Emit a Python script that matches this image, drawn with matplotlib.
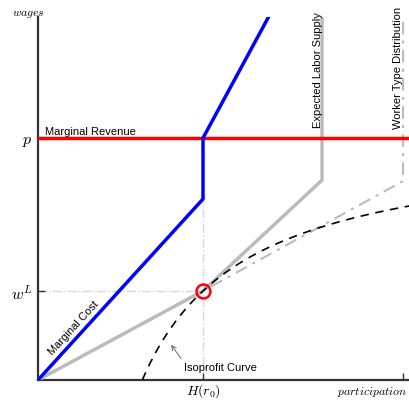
import numpy as np
import matplotlib
matplotlib.use("Agg")
import matplotlib.pyplot as plt

plt.rcParams['mathtext.fontset'] = 'cm'
plt.rcParams['font.family'] = ['Liberation Sans', 'DejaVu Sans']

# key levels (participation on x, wages on y)
H_r0 = 0.452
p_level = 1.0
w_L = 0.368

# curves
mc_x = [0, H_r0, H_r0, 0.630]
mc_y = [0, 0.748, p_level, 1.496]

supply_x = [0, H_r0, 0.778, 0.778]
supply_y = [0, w_L, 0.826, 1.5]

dist_x = [0, H_r0, 1.0, 1.0]
dist_y = [0, w_L, 0.822, 1.5]

# isoprofit: (p - w) * L = const through the optimum
k_iso = (p_level - w_L) * H_r0

fig = plt.figure(figsize=(4.1, 4.02), dpi=100)
ax = fig.add_axes([38/410, 21/402, 372/410, 363/402])
ax.set_xlim(0, 1.019)
ax.set_ylim(0, 1.5)

# guides
ax.plot([0, H_r0], [w_L, w_L], color='#d8d8d8', lw=1.0, ls='-.', zorder=1)
ax.plot([H_r0, H_r0], [0, p_level], color='#d8d8d8', lw=1.0, ls='-.', zorder=1)

ax.plot(dist_x, dist_y, color='#bbbbbb', lw=1.5, ls=(0, (6, 3, 1.5, 3)), zorder=2)
ax.plot(supply_x, supply_y, color='#bbbbbb', lw=2.5, zorder=3)

L = np.linspace(k_iso, 1.02, 200)
ax.plot(L, p_level - k_iso / L, color='black', lw=1.2, ls=(0, (5, 4)), zorder=4)

ax.axhline(p_level, color='red', lw=2.5, zorder=5)
ax.plot(mc_x, mc_y, color='blue', lw=2.5, zorder=6)

ax.plot([H_r0], [w_L], marker='o', ms=10, mfc='none', mec='red', mew=1.8, zorder=7)

# annotations
ax.text(0.02, p_level + 0.008, 'Marginal Revenue', fontsize=8, va='bottom', ha='left')
ax.text(0.045, 0.10, 'Marginal Cost', fontsize=8, rotation=47.6, rotation_mode='anchor',
        ha='left', va='bottom')
ax.text(0.768, 1.525, 'Expected Labor Supply', fontsize=8, rotation=90, ha='center', va='top',
        clip_on=False)
ax.text(0.985, 1.545, 'Worker Type Distribution', fontsize=8, rotation=90, ha='center', va='top',
        clip_on=False)
ax.annotate('Isoprofit Curve', xy=(0.365, 0.145), xytext=(0.40, 0.055), fontsize=8,
            ha='left', va='center',
            arrowprops=dict(arrowstyle='->', color='#555555', lw=0.6,
                            shrinkA=0, shrinkB=0, relpos=(0, 0.9)))

# axes styling
for side in ['top', 'right']:
    ax.spines[side].set_visible(False)
for side in ['left', 'bottom']:
    ax.spines[side].set_color('#333333')
    ax.spines[side].set_linewidth(1.6)

ax.set_xticks([H_r0, 1.0])
ax.set_xticklabels(['$H(r_0)$', ''], fontsize=10)
ax.set_yticks([w_L, p_level])
ax.set_yticklabels(['$w^L$', '$p$'], fontsize=11.5)
ax.tick_params(axis='both', direction='in', length=5, width=1, color='#333333', pad=4)
ax.tick_params(axis='x', pad=1)

fig.text(28/410, 1 - 14/402, '$wages$', fontsize=8.5, ha='center', va='center')
fig.text(407/410, 1 - 392/402, '$participation$', fontsize=8.5, ha='right', va='center')

fig.savefig('out.png', dpi=100)
